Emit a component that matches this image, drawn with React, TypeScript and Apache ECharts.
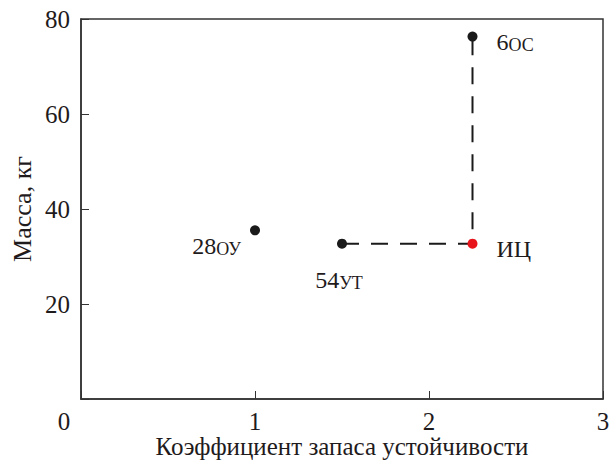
import React, { useEffect, useRef } from "react";
import * as echarts from "echarts";

const pointNames = ["6", "28", "54", "ИЦ"];
const pointSubs = ["ОС", "ОУ", "УТ", ""];
const pointX = [2.25, 1.0, 1.5, 2.25];
const pointY = [76.3, 35.5, 32.7, 32.7];
const pointColors = ["#1a1a1a", "#1a1a1a", "#1a1a1a", "#e8141c"];
const labelPositions = ["right", "left", "bottom", "right"];
const dashedPathX = [1.5, 2.25, 2.25];
const dashedPathY = [32.7, 32.7, 76.3];
const xTicks = [0, 1, 2, 3];
const yTicks = [0, 20, 40, 60, 80];

const FONT = "Liberation Serif";
const INK = "#1f1b1c";

export default function App() {
  const ref = useRef<HTMLDivElement>(null);
  useEffect(() => {
    if (!ref.current) return;
    const chart = echarts.init(ref.current, null, { renderer: "svg" });
    const labelOffsets: Record<string, number[]> = {
      right: [14, 5],
      left: [-4, 16],
      bottom: [-3, 14],
    };
    const scatterData = pointNames.map((n, i) => ({
      value: [pointX[i], pointY[i]],
      itemStyle: { color: pointColors[i], opacity: 1 },
      label: {
        show: true,
        position: labelPositions[i],
        offset: labelOffsets[labelPositions[i]],
        formatter: pointSubs[i] ? `{n|${n}}{s|${pointSubs[i]}}` : `{n|${n}}`,
        rich: {
          n: { fontSize: 24, fontFamily: FONT, color: INK, lineHeight: 24, verticalAlign: "top" },
          s: { fontSize: 18, fontFamily: FONT, color: INK, lineHeight: 18, padding: [17, 0, 0, 0], verticalAlign: "bottom" },
        },
      },
    }));
    chart.setOption({
      animation: false,
      textStyle: { fontFamily: FONT },
      grid: {
        left: 81,
        right: 6,
        top: 19,
        bottom: 64,
        outerBoundsMode: "none",
        containLabel: false,
        show: true,
        borderColor: "#333",
        borderWidth: 1.5,
        backgroundColor: "transparent",
      },
      xAxis: {
        type: "value",
        min: xTicks[0],
        max: xTicks[xTicks.length - 1],
        interval: 1,
        name: "Коэффициент запаса устойчивости",
        nameLocation: "middle",
        nameGap: 35,
        nameMoveOverlap: false,
        nameTextStyle: { fontSize: 25, lineHeight: 25, fontFamily: FONT, color: INK },
        axisLine: { show: true, lineStyle: { color: "#333", width: 1.5 } },
        axisTick: { show: true, inside: true, length: 8, lineStyle: { color: "#333", width: 1 } },
        splitLine: { show: false },
        axisLabel: {
          margin: 10,
          fontSize: 25,
          fontFamily: FONT,
          color: INK,
          formatter: (v: number) => (v === 0 ? `{z|${v}}` : `${v}`),
          rich: { z: { fontSize: 25, fontFamily: FONT, color: INK, padding: [0, 34, 0, 0] } },
        },
      },
      yAxis: {
        type: "value",
        min: yTicks[0],
        max: yTicks[yTicks.length - 1],
        interval: 20,
        name: "Масса, кг",
        nameLocation: "middle",
        nameGap: 46,
        nameMoveOverlap: false,
        nameTextStyle: { fontSize: 26, fontFamily: FONT, color: INK },
        axisLine: { show: true, lineStyle: { color: "#333", width: 1.5 } },
        axisTick: { show: true, inside: true, length: 8, lineStyle: { color: "#333", width: 1 } },
        splitLine: { show: false },
        axisLabel: {
          margin: 11,
          fontSize: 25,
          fontFamily: FONT,
          color: INK,
          formatter: (v: number) => (v === 0 ? "" : `${v}`),
        },
      },
      series: [
        {
          type: "line",
          data: dashedPathX.map((x, i) => [x, dashedPathY[i]]),
          symbol: "none",
          lineStyle: { color: "#1a1a1a", width: 2, type: [17, 12] },
          z: 1,
        },
        {
          type: "scatter",
          symbol: "circle",
          symbolSize: 10,
          data: scatterData,
          z: 3,
        },
      ],
    });
    return () => chart.dispose();
  }, []);
  return <div ref={ref} style={{ width: 609, height: 463, position: "absolute", left: 0, top: 0, background: "#fff" }} />;
}
